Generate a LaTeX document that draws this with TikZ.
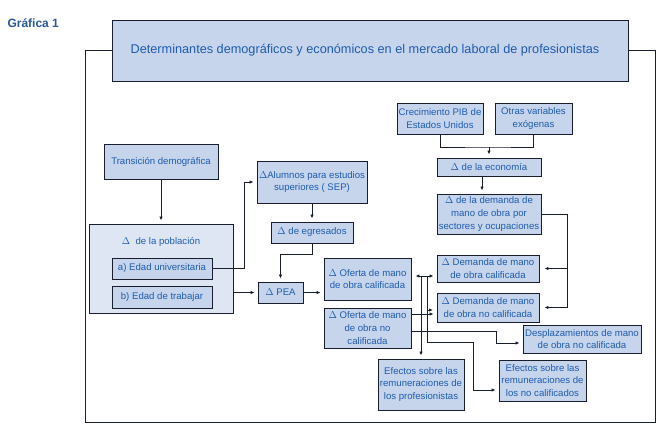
\documentclass[tikz,border=0pt]{standalone}
\usepackage{fontspec}
\setmainfont{Liberation Sans}
\usetikzlibrary{arrows.meta}
\definecolor{boxfill}{RGB}{198,212,236}
\definecolor{popfill}{RGB}{222,230,243}
\definecolor{txtblue}{RGB}{30,92,172}
\definecolor{edgec}{RGB}{25,30,45}
\definecolor{grafblue}{RGB}{40,90,150}
\newcommand{\bx}[7][]{%
  \pgfmathsetmacro\bxw{#5-#3}\pgfmathsetmacro\bxh{#6-#4}%
  \node[box,#1,minimum width=\bxw pt,minimum height=\bxh pt] (#2) at ({(#3+#5)/2},{(#4+#6)/2}) {#7};}
\begin{document}
\begin{tikzpicture}[x=1pt,y=-1pt,
  box/.style={draw=edgec,line width=0.9pt,fill=boxfill,inner sep=0pt,align=center,
    text=txtblue,font=\fontsize{9.6}{12.7}\selectfont},
  ln/.style={draw=edgec,line width=0.9pt},
  arr/.style={ln,-{Latex[length=4pt,width=3.4pt]},shorten >=3pt},
  dbl/.style={ln,{Latex[length=4pt,width=3.4pt]}-{Latex[length=4pt,width=3.4pt]},shorten >=3pt,shorten <=4pt}]
\useasboundingbox[fill=white] (0,0) rectangle (664,433);
\node[anchor=west,text=grafblue,font=\fontsize{12}{14}\selectfont\bfseries] (graf) at (4,23) {Gráfica 1};
% frame
\draw[ln] (112,50) -- (85,50) -- (85,422) -- (655,422) -- (655,50) -- (628,50);
\bx[font=\fontsize{12.7}{15}\selectfont]{title}{112}{20}{628}{81}{Determinantes demográficos y económicos en el mercado laboral de profesionistas\hspace*{10pt}}
\bx{trans}{104}{144}{218}{179}{Transición demográfica}
\bx[fill=popfill]{pob}{89}{224}{233}{313}{}
\node[text=txtblue,font=\fontsize{9.6}{12.7}\selectfont] (poblab) at (161,242) {$\Delta$\ \ de la población};
\bx{eu}{112}{258}{212}{279}{a) Edad universitaria}
\bx{et}{112}{286}{212}{308}{b) Edad de trabajar}
\bx{alum}{257}{161}{367}{203}{$\Delta$Alumnos para estudios\\superiores ( SEP)}
\bx{egr}{271}{222}{353}{243}{$\Delta$\ de egresados}
\bx{pea}{258}{282}{303}{303}{$\Delta$\ PEA}
\bx{ofc}{324}{258}{411}{300}{$\Delta$ Oferta de mano\\de obra calificada}
\bx{ofn}{324}{308}{411}{348}{$\Delta$ Oferta de mano\\de obra no\\calificada}
\bx{efp}{378}{359}{464}{410}{Efectos sobre las\\remuneraciones de\\los profesionistas}
\bx{efn}{499}{360}{586}{401}{Efectos sobre las\\remuneraciones de\\los no calificados}
\bx{desp}{523}{325}{641}{353}{Desplazamientos de mano\\de obra no calificada}
\bx{dc}{437}{255}{539}{282}{$\Delta$ Demanda de mano\\de obra calificada}
\bx{dn}{437}{293}{539}{322}{$\Delta$ Demanda de mano\\de obra no calificada}
\bx{pib}{397}{103}{483}{134}{Crecimiento PIB de\\Estados Unidos}
\bx{otras}{495}{103}{572}{134}{Otras variables\\exógenas}
\bx{eco}{437}{158}{541}{176}{$\Delta$ de la economía}
\bx{dem}{437}{194}{541}{234}{$\Delta$ de la demanda de\\mano de obra por\\sectores y ocupaciones}
% top right connectors
\coordinate (jn) at (489,147);
\draw[ln] (pib.south) |- (jn) -| (otras.south);
\draw[arr] (jn) -- (jn |- eco.north);
\draw[arr] ([xshift=-7pt]eco.south) -- ([xshift=-7pt]dem.north);
\coordinate (dr) at (567,214);
\draw[ln] (dem.east) -- (dr);
\draw[arr,shorten >=5pt] (dr) |- (dn.east);
\draw[arr,shorten >=5pt] (dr |- dc.east) -- (dc.east);
% left connectors
\draw[arr] (trans.south) -- (pob.north);
\coordinate (eu1) at (244,268.5);
\draw[arr] (eu.east) -- (eu1) |- (alum.west);
\draw[arr] (alum.south) -- (egr.north);
\coordinate (eg1) at (312,254);
\draw[arr] (egr.south) -- (eg1) -| (pea.north);
\draw[arr] (pob.east |- pea.west) -- (pea.west);
\draw[arr] (pea.east) -- (pea.east -| ofc.west);
% tangle
\coordinate (y276) at (0,276);
\coordinate (y314) at (0,314);
\coordinate (y331) at (0,331);
\draw[dbl] (ofc.east |- y276) -- (dc.west |- y276);
\coordinate (v1) at (421,276);
\draw[arr] (v1) -- (v1 |- efp.north);
\coordinate (v2) at (427,276);
\coordinate (v2b) at (427,342);
\coordinate (v2c) at (473,342);
\coordinate (v2d) at (473,390);
\draw[arr] (v2) -- (v2b) -- (v2c) -- (v2d) -- (v2d -| efn.west);
\coordinate (v2m) at (427,310);
\coordinate (v2n) at (433,310);
\draw[arr,shorten >=0pt] (v2m) -- (v2n);
\draw[arr] (ofn.east |- y314) -- (dn.west |- y314);
\coordinate (d1) at (496,331);
\coordinate (d2) at (496,343);
\draw[arr] (ofn.east |- y331) -- (d1) -- (d2) -- (d2 -| desp.west);
\end{tikzpicture}
\end{document}
